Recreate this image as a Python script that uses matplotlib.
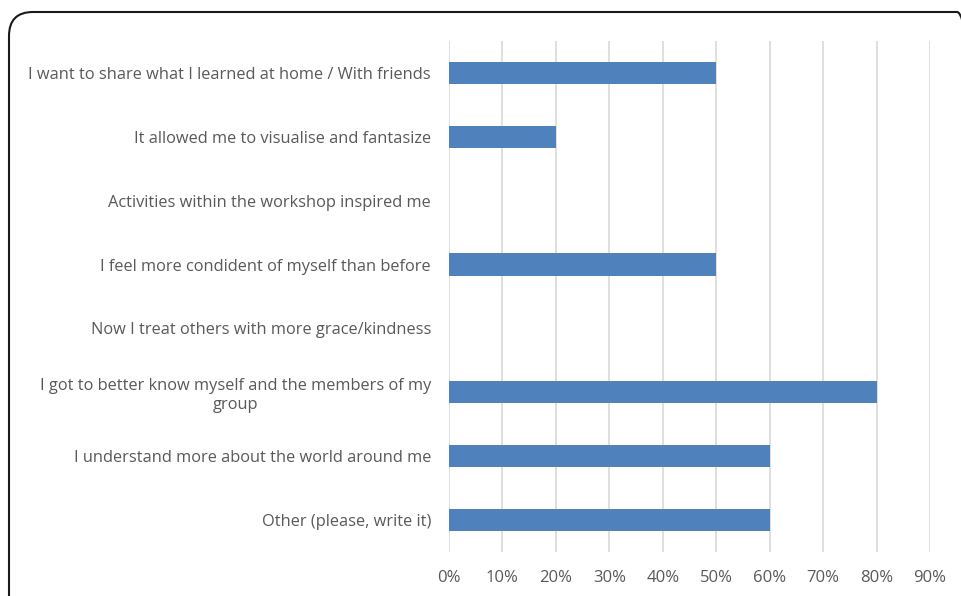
import matplotlib
matplotlib.use("Agg")
import matplotlib.pyplot as plt
from matplotlib.patches import FancyBboxPatch
from matplotlib.ticker import FuncFormatter, MultipleLocator
from matplotlib.transforms import IdentityTransform

categories = [
    "I want to share what I learned at home / With friends",
    "It allowed me to visualise and fantasize",
    "Activities within the workshop inspired me",
    "I feel more condident of myself than before",
    "Now I treat others with more grace/kindness",
    "I got to better know myself and the members of my\ngroup",
    "I understand more about the world around me",
    "Other (please, write it)",
]
values = [0.50, 0.20, 0.0, 0.50, 0.0, 0.80, 0.60, 0.60]

BAR = "#4F81BD"
TEXT = "#595959"
GRID = "#D9D9D9"

plt.rcParams["font.family"] = ["Open Sans", "DejaVu Sans"]

fig = plt.figure(figsize=(9.62, 5.96), dpi=100)
ax = fig.add_axes([449 / 962, 1 - 552 / 596, (930 - 449) / 962, (552 - 41) / 596])

pos = list(range(len(categories)))
ax.barh(pos, values, height=0.35, color=BAR, zorder=3)
ax.set_ylim(len(categories) - 0.5, -0.5)
ax.set_xlim(0, 0.9)
ax.set_yticks(pos)
ax.set_yticklabels(categories)
for lab in ax.get_yticklabels():
    lab.set_multialignment("center")

ax.xaxis.set_major_locator(MultipleLocator(0.1))
ax.xaxis.set_major_formatter(FuncFormatter(lambda v, p: f"{v * 100:.0f}%"))
ax.grid(axis="x", color=GRID, linewidth=1.2, zorder=0)
ax.tick_params(axis="both", length=0, labelcolor=TEXT)
ax.tick_params(axis="y", labelsize=11.8, pad=13)
ax.tick_params(axis="x", labelsize=12, pad=13)
for s in ax.spines.values():
    s.set_visible(False)

# rounded frame around the chart, partly cut off at right/bottom
frame = FancyBboxPatch((9, -40), 972, 624, boxstyle="round,pad=0,rounding_size=24",
                       transform=IdentityTransform(), facecolor="none",
                       edgecolor="#1a1a1a", linewidth=1.5)
fig.patches.append(frame)

fig.savefig("out.png", dpi=100)
